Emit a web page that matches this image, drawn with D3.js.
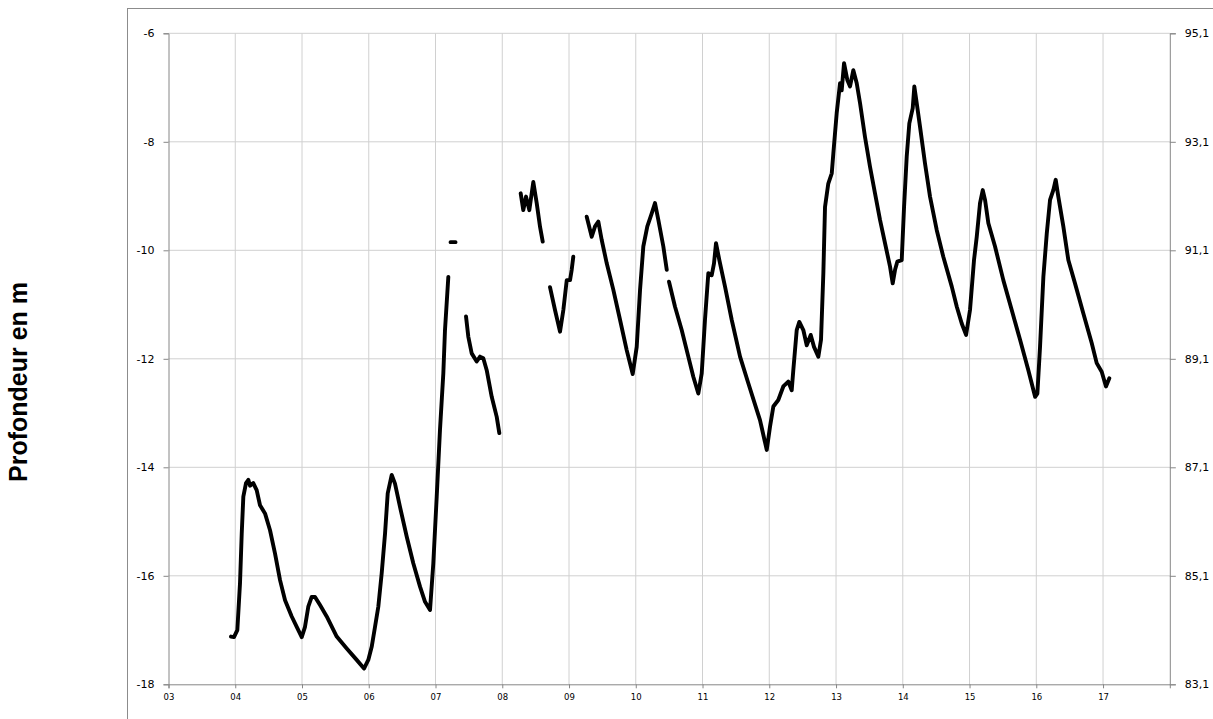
<!DOCTYPE html>
<html>
<head>
<meta charset="utf-8">
<script src="https://cdn.jsdelivr.net/npm/d3@7"></script>
<style>
  body { margin: 0; background: #fff; }
  svg { display: block; }
  .tick text { fill: #000; }
</style>
</head>
<body>
<script>
// decimal year (03 = 2003) and depth in m; null marks a gap in the record
const years = [
  3.936, 3.981, 4.031, 4.071, 4.097, 4.121, 4.161, 4.196, 4.221, 4.270, 4.321, 4.371, 4.446, 4.521,
  4.596, 4.671, 4.746, 4.846, 4.921, 4.996, 5.045, 5.094, 5.145, 5.195, 5.270, 5.370, 5.520, 5.670,
  5.819, 5.929, 5.993, 6.044, 6.094, 6.143, 6.194, 6.244, 6.284, 6.344, 6.393, 6.468, 6.569, 6.667,
  6.768, 6.843, 6.918, 6.967, 7.018, 7.067, 7.117, 7.142, 7.192,
  7.20,
  7.225, 7.300,
  7.40,
  7.457, 7.491, 7.542, 7.617, 7.667, 7.716, 7.767, 7.842, 7.917, 7.956,
  8.10,
  8.276, 8.315, 8.356, 8.405, 8.465, 8.516, 8.566, 8.606,
  8.66,
  8.715, 8.790, 8.865, 8.915, 8.966, 9.015, 9.040, 9.064,
  9.15,
  9.265, 9.340, 9.390, 9.439, 9.490, 9.565, 9.664, 9.764, 9.864, 9.954, 10.014, 10.064, 10.113,
  10.173, 10.239, 10.288, 10.338, 10.413, 10.464,
  10.48,
  10.498, 10.588, 10.688, 10.787, 10.862, 10.937, 10.988, 11.037, 11.087, 11.138, 11.172, 11.202,
  11.252, 11.337, 11.437, 11.562, 11.686, 11.812, 11.861, 11.962, 12.011, 12.061, 12.135, 12.210,
  12.285, 12.336, 12.360, 12.411, 12.450, 12.510, 12.561, 12.621, 12.670, 12.735, 12.775, 12.810,
  12.835, 12.884, 12.936, 12.960, 13.010, 13.060, 13.085, 13.120, 13.169, 13.210, 13.259, 13.310,
  13.360, 13.434, 13.509, 13.584, 13.659, 13.734, 13.809, 13.849, 13.884, 13.918, 13.984, 14.019,
  14.059, 14.098, 14.149, 14.173, 14.209, 14.258, 14.333, 14.408, 14.509, 14.607, 14.734, 14.809,
  14.883, 14.948, 15.007, 15.067, 15.108, 15.157, 15.198, 15.232, 15.282, 15.382, 15.506, 15.632,
  15.757, 15.881, 15.982, 16.016, 16.056, 16.106, 16.157, 16.206, 16.255, 16.291, 16.330, 16.405,
  16.480, 16.580, 16.704, 16.830, 16.905, 16.980, 17.044, 17.094
];

const depths = [
  -17.12, -17.13, -17.00, -16.14, -15.22, -14.54, -14.29, -14.23, -14.34, -14.29, -14.42, -14.70, -14.85, -15.16,
  -15.59, -16.08, -16.45, -16.75, -16.94, -17.13, -16.94, -16.57, -16.39, -16.39, -16.54, -16.75, -17.12, -17.34,
  -17.55, -17.71, -17.55, -17.31, -16.94, -16.57, -15.95, -15.22, -14.48, -14.14, -14.30, -14.73, -15.28, -15.77,
  -16.20, -16.48, -16.63, -15.77, -14.54, -13.31, -12.27, -11.47, -10.49,
  null,
  -9.85, -9.85,
  null,
  -11.22, -11.59, -11.90, -12.05, -11.96, -11.99, -12.21, -12.70, -13.07, -13.37,
  null,
  -8.95, -9.26, -9.01, -9.26, -8.74, -9.13, -9.57, -9.84,
  null,
  -10.68, -11.10, -11.50, -11.10, -10.55, -10.55, -10.36, -10.12,
  null,
  -9.38, -9.75, -9.56, -9.47, -9.81, -10.24, -10.73, -11.28, -11.84, -12.28, -11.78, -10.73, -9.93,
  -9.56, -9.32, -9.13, -9.44, -9.93, -10.36,
  null,
  -10.58, -11.04, -11.47, -11.96, -12.33, -12.64, -12.27, -11.28, -10.42, -10.46, -10.24, -9.87,
  -10.18, -10.67, -11.28, -11.96, -12.45, -12.94, -13.13, -13.68, -13.25, -12.88, -12.76, -12.51,
  -12.42, -12.58, -12.21, -11.47, -11.32, -11.47, -11.75, -11.56, -11.78, -11.96, -11.65, -10.42,
  -9.20, -8.77, -8.58, -8.21, -7.47, -6.92, -7.05, -6.55, -6.86, -6.98, -6.68, -6.92,
  -7.29, -7.91, -8.46, -8.95, -9.44, -9.87, -10.30, -10.61, -10.36, -10.21, -10.18, -9.20,
  -8.27, -7.66, -7.38, -6.98, -7.29, -7.72, -8.40, -9.01, -9.63, -10.12, -10.67, -11.04,
  -11.35, -11.56, -11.10, -10.18, -9.75, -9.13, -8.89, -9.07, -9.50, -9.93, -10.55, -11.10,
  -11.65, -12.21, -12.70, -12.64, -11.78, -10.49, -9.69, -9.07, -8.89, -8.70, -9.01, -9.56,
  -10.18, -10.61, -11.16, -11.71, -12.08, -12.24, -12.51, -12.36
];

const xTickValues = [3, 4, 5, 6, 7, 8, 9, 10, 11, 12, 13, 14, 15, 16, 17];
const xTickLabels = ['03', '04', '05', '06', '07', '08', '09', '10', '11', '12', '13', '14', '15', '16', '17'];
const leftTicks = [-18, -16, -14, -12, -10, -8, -6];
const rightTicks = [83.1, 85.1, 87.1, 89.1, 91.1, 93.1, 95.1];
const yTitle = 'Profondeur en m';

const W = 1213, H = 719;
const margin = { left: 168.5, top: 33.3, right: 43.2, bottom: 34.7 };
const width = W - margin.left - margin.right;
const height = H - margin.top - margin.bottom;

const svg = d3.select('body').append('svg')
  .attr('width', W)
  .attr('height', H);

// chart area frame (runs off the picture to the right and bottom)
svg.append('rect')
  .attr('x', 127.5).attr('y', 8.5)
  .attr('width', 1200).attr('height', 800)
  .attr('fill', 'none')
  .attr('stroke', '#8c8c8c');

const x = d3.scaleLinear().domain([3, 18]).range([0, width]);
const y = d3.scaleLinear().domain([-18, -6]).range([height, 0]);
const y2 = d3.scaleLinear().domain([83.1, 95.1]).range([height, 0]);

const g = svg.append('g')
  .attr('transform', `translate(${margin.left}, ${margin.top})`);

// grid
g.append('g').selectAll('line')
  .data(d3.range(4, 18))
  .join('line')
  .attr('x1', d => x(d)).attr('x2', d => x(d))
  .attr('y1', 0).attr('y2', height)
  .attr('stroke', '#d0d0d0');

g.append('g').selectAll('line')
  .data(leftTicks.slice(1))
  .join('line')
  .attr('x1', 0).attr('x2', width)
  .attr('y1', d => y(d)).attr('y2', d => y(d))
  .attr('stroke', '#d0d0d0');

// axes
const xAxis = g.append('g')
  .attr('transform', `translate(0, ${height})`)
  .call(d3.axisBottom(x)
    .tickValues(xTickValues)
    .tickFormat((d, i) => xTickLabels[i])
    .tickSize(4)
    .tickPadding(6));
xAxis.selectAll('text').attr('font-family', 'DejaVu Sans').attr('font-size', 8.5);

const yAxis = g.append('g')
  .call(d3.axisLeft(y)
    .tickValues(leftTicks)
    .tickFormat(d => String(d))
    .tickSize(5)
    .tickPadding(9));
yAxis.selectAll('text').attr('font-family', 'DejaVu Sans').attr('font-size', 11);

const yAxisRight = g.append('g')
  .attr('transform', `translate(${width}, 0)`)
  .call(d3.axisRight(y2)
    .tickValues(rightTicks)
    .tickFormat(d => d.toFixed(1).replace('.', ','))
    .tickSize(6)
    .tickPadding(9));
yAxisRight.selectAll('text').attr('font-family', 'DejaVu Sans').attr('font-size', 11);

[xAxis, yAxis, yAxisRight].forEach(a => {
  a.select('.domain').attr('stroke', '#868686');
  a.selectAll('.tick line').attr('stroke', '#868686');
});

// series
const points = years.map((d, i) => ({ year: d, depth: depths[i] }));

const line = d3.line()
  .defined(d => d.depth !== null)
  .x(d => x(d.year))
  .y(d => y(d.depth));

g.append('path')
  .datum(points)
  .attr('d', line)
  .attr('fill', 'none')
  .attr('stroke', '#000')
  .attr('stroke-width', 3.9)
  .attr('stroke-linejoin', 'round')
  .attr('stroke-linecap', 'round');

// axis title
svg.append('text')
  .attr('transform', 'translate(27, 382) rotate(-90)')
  .attr('text-anchor', 'middle')
  .attr('font-family', "'Liberation Sans', Arial, sans-serif")
  .attr('font-weight', 'bold')
  .attr('font-size', 25)
  .text(yTitle);
</script>
</body>
</html>
